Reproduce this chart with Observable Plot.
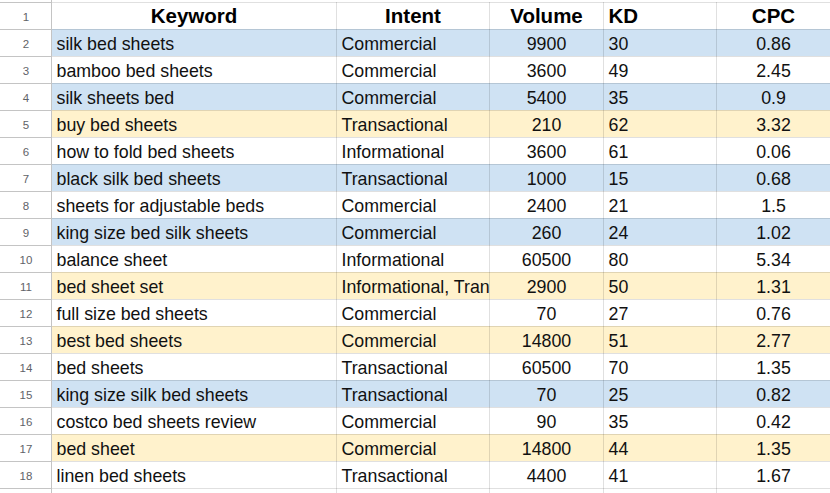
<!DOCTYPE html>
<html>
<head>
<meta charset="utf-8">
<script src="https://cdn.jsdelivr.net/npm/d3@7"></script>
<script src="https://cdn.jsdelivr.net/npm/@observablehq/plot@0.6"></script>
<style>
  html, body { margin: 0; padding: 0; background: #fff; }
  #wrap { width: 830px; height: 493px; overflow: hidden; position: relative; }
  #wrap svg { display: block; }
</style>
</head>
<body>
<div id="wrap"></div>
<script>
// ---- Data ----
const headers = ["Keyword", "Intent", "Volume", "KD", "CPC"];
const keywords = [
  "silk bed sheets", "bamboo bed sheets", "silk sheets bed", "buy bed sheets",
  "how to fold bed sheets", "black silk bed sheets", "sheets for adjustable beds",
  "king size bed silk sheets", "balance sheet", "bed sheet set", "full size bed sheets",
  "best bed sheets", "bed sheets", "king size silk bed sheets", "costco bed sheets review",
  "bed sheet", "linen bed sheets"
];
const intents = [
  "Commercial", "Commercial", "Commercial", "Transactional", "Informational",
  "Transactional", "Commercial", "Commercial", "Informational",
  "Informational, Transactional", "Commercial", "Commercial", "Transactional",
  "Transactional", "Commercial", "Commercial", "Transactional"
];
const volumes = [9900, 3600, 5400, 210, 3600, 1000, 2400, 260, 60500, 2900, 70, 14800, 60500, 70, 90, 14800, 4400];
const kds = [30, 49, 35, 62, 61, 15, 21, 24, 80, 50, 27, 51, 70, 25, 35, 44, 41];
const cpcs = [0.86, 2.45, 0.9, 3.32, 0.06, 0.68, 1.5, 1.02, 5.34, 1.31, 0.76, 2.77, 1.35, 0.82, 0.42, 1.35, 1.67];
const highlights = ["blue", "none", "blue", "yellow", "none", "blue", "none", "blue", "none",
  "yellow", "none", "yellow", "none", "blue", "none", "yellow", "none"];

// ---- Layout / style ----
const colEdges = [0, 51, 336, 489, 603, 716, 830];
const totalRows = 19;
const fills = { blue: "#cfe2f3", yellow: "#fff2cc", none: "#ffffff" };
const font = "Arial, 'Liberation Sans', Helvetica, sans-serif";
const bodySize = 17.8;

const rows = keywords.map((k, i) => ({
  row: i + 2, keyword: k, intent: intents[i], volume: volumes[i], kd: kds[i], cpc: cpcs[i], hl: highlights[i]
}));
const headerRow = headers.map((h, i) => ({ row: 1, label: h, col: i }));
const rowNums = d3.range(1, rows.length + 2);
const mid = (a, b) => (a + b) / 2;

const plot = Plot.plot({
  width: 830,
  height: 493,
  margin: 0,
  x: { domain: [0, 830], range: [0, 830], axis: null },
  y: { domain: [0, totalRows], range: [2, 2 + 27 * totalRows], axis: null },
  color: { type: "identity" },
  style: { fontFamily: font, background: "#fff", overflow: "hidden" },
  marks: [
    // highlighted row backgrounds
    Plot.rect(rows.filter(d => d.hl !== "none"), {
      x1: colEdges[1], x2: colEdges[6], y1: d => d.row - 1, y2: d => d.row, fill: d => fills[d.hl]
    }),
    // intent text (clipped at the column edge like a spreadsheet cell)
    Plot.text(rows, {
      x: colEdges[2] + 5, y: d => d.row - 0.5, text: "intent", textAnchor: "start",
      fontSize: bodySize, fill: "#111", dy: 1,
      lineWidth: 9.6, textOverflow: "clip"
    }),
    // volume column backgrounds (cover any overflow)
    Plot.rect(rows, {
      x1: colEdges[3] + 1, x2: colEdges[4], y1: d => d.row - 1, y2: d => d.row, fill: d => fills[d.hl]
    }),
    // grid lines (sheet area)
    Plot.ruleY(d3.range(0, totalRows + 1), {
      x1: colEdges[1], x2: colEdges[6], stroke: "#000", strokeOpacity: 0.12
    }),
    Plot.ruleX(colEdges.slice(2, 6), {
      y1: 0, y2: totalRows, stroke: "#000", strokeOpacity: 0.12
    }),
    // row header column lines
    Plot.ruleY(d3.range(0, totalRows + 1), {
      x1: colEdges[0], x2: colEdges[1], stroke: "#c4c4c4"
    }),
    Plot.ruleX([colEdges[1]], { y1: -1, y2: totalRows, stroke: "#c4c4c4" }),
    // row numbers
    Plot.text(rowNums, {
      x: mid(colEdges[0], colEdges[1]), y: d => d - 0.5, text: d => String(d),
      fontSize: 11.5, fill: "#5f6368", dy: 1
    }),
    // header row (centered columns)
    Plot.text(headerRow.filter(d => d.col !== 3), {
      x: d => mid(colEdges[d.col + 1], colEdges[d.col + 2]),
      y: d => d.row - 0.5, text: "label", textAnchor: "middle",
      fontSize: 20.5, fontWeight: "bold", fill: "#000"
    }),
    // header row (left-aligned KD)
    Plot.text(headerRow.filter(d => d.col === 3), {
      x: d => colEdges[d.col + 1] + 5,
      y: d => d.row - 0.5, text: "label", textAnchor: "start",
      fontSize: 20.5, fontWeight: "bold", fill: "#000"
    }),
    // keyword
    Plot.text(rows, {
      x: colEdges[1] + 5, y: d => d.row - 0.5, text: "keyword", textAnchor: "start",
      fontSize: bodySize, fill: "#111", dy: 1
    }),
    // volume
    Plot.text(rows, {
      x: mid(colEdges[3], colEdges[4]), y: d => d.row - 0.5, text: d => String(d.volume),
      fontSize: bodySize, fill: "#111", dy: 1
    }),
    // KD
    Plot.text(rows, {
      x: colEdges[4] + 5, y: d => d.row - 0.5, text: d => String(d.kd), textAnchor: "start",
      fontSize: bodySize, fill: "#111", dy: 1
    }),
    // CPC
    Plot.text(rows, {
      x: mid(colEdges[5], colEdges[6]), y: d => d.row - 0.5, text: d => String(d.cpc),
      fontSize: bodySize, fill: "#111", dy: 1
    })
  ]
});
document.getElementById("wrap").appendChild(plot);
</script>
</body>
</html>
